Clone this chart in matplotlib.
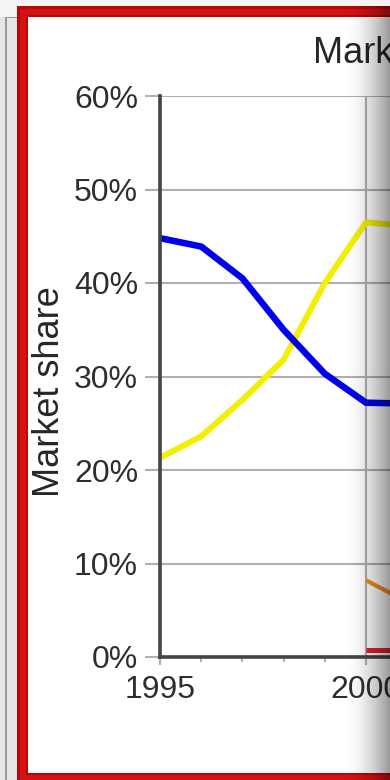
import numpy as np
import matplotlib
matplotlib.use("Agg")
import matplotlib.pyplot as plt
from matplotlib.patches import Rectangle
from matplotlib.ticker import MultipleLocator, FuncFormatter

plt.rcParams['font.family'] = ['Liberation Sans', 'DejaVu Sans']

# Market share by year (percent)
years_main = [1995, 1996, 1997, 1998, 1999, 2000, 2001]
share_blue = [44.8, 43.9, 40.5, 35.0, 30.3, 27.2, 27.1]
share_yellow = [21.3, 23.6, 27.5, 31.8, 40.0, 46.5, 46.1]
years_late = [2000, 2001]
share_orange = [8.2, 5.9]
share_red = [0.8, 0.8]

W, H = 390, 780
fig = plt.figure(figsize=(W / 100, H / 100), dpi=100)
fig.patch.set_facecolor('#f4f4f4')


def fx(px):
    return px / W


def fy(py):
    return 1 - py / H


# page background on the left and the red frame
fig.patches.append(Rectangle((0, 0), fx(17), fy(17), transform=fig.transFigure,
                             facecolor='#e6e6e6', edgecolor='none', zorder=0))
fig.patches.append(Rectangle((fx(5), 0), fx(2), fy(17), transform=fig.transFigure,
                             facecolor='#9a9a9a', edgecolor='none', zorder=0))
fig.patches.append(Rectangle((fx(5), fy(18)), fx(12), 1 / H, transform=fig.transFigure,
                             facecolor='#9a9a9a', edgecolor='none', zorder=0))
fig.patches.append(Rectangle((fx(17), -0.01), 1.0, fy(6) + 0.01, transform=fig.transFigure,
                             facecolor='#bc0505', edgecolor='none', zorder=0))
fig.patches.append(Rectangle((fx(20), -0.01), 1.0, fy(9) + 0.01, transform=fig.transFigure,
                             facecolor='#d41216', edgecolor='none', zorder=0))
fig.patches.append(Rectangle((fx(26), fy(775)), 1.0, fy(15) - fy(775), transform=fig.transFigure,
                             facecolor='#bc0505', edgecolor='none', zorder=0))
fig.patches.append(Rectangle((fx(28), fy(773)), 1.0, fy(17) - fy(773), transform=fig.transFigure,
                             facecolor='white', edgecolor='none', zorder=0))

# plot area: 1995 at x=160, one year = 41.2 px; 0% at y=657, 60% at y=96
x0, x1 = 1995, 2001
left, right = 160, 160 + 41.2 * (x1 - x0)
top, bottom = 96, 657
ax = fig.add_axes([fx(left), fy(bottom), (right - left) / W, (bottom - top) / H], zorder=2)
ax.set_facecolor('none')
ax.set_xlim(x0, x1)
ax.set_ylim(0, 60)

ax.plot(years_main, share_blue, color='#0000ee', lw=4.7, solid_capstyle='butt', zorder=4)
ax.plot(years_main, share_yellow, color='#f2f000', lw=4.3, solid_capstyle='butt', zorder=3)
ax.plot(years_late, share_orange, color='#f0901e', lw=3.0, solid_capstyle='butt', zorder=3)
ax.plot(years_late, share_red, color='#e8202a', lw=3.6, solid_capstyle='butt', zorder=3)

ax.yaxis.set_major_locator(MultipleLocator(10))
ax.yaxis.set_major_formatter(FuncFormatter(lambda v, p: f"{int(round(v))}%"))
ax.xaxis.set_major_locator(MultipleLocator(5))
ax.xaxis.set_minor_locator(MultipleLocator(1))
ax.xaxis.set_major_formatter(FuncFormatter(lambda v, p: f"{int(v)}"))

ax.grid(True, which='major', color='#b0b0b0', lw=1.5)
ax.set_axisbelow(True)
for s in ('top', 'right'):
    ax.spines[s].set_visible(False)
for s in ('left', 'bottom'):
    ax.spines[s].set_color('#444444')
    ax.spines[s].set_linewidth(2.6)
    ax.spines[s].set_zorder(5)

ax.tick_params(axis='y', which='major', length=10.8, width=1.5, color='#b0b0b0',
               labelsize=23, labelcolor='#2e2e2e', pad=5)
ax.tick_params(axis='x', which='major', length=6, width=1.5, color='#b0b0b0',
               labelsize=23, labelcolor='#2e2e2e', pad=7)
ax.tick_params(axis='x', which='minor', length=3.5, width=1.5, color='#b0b0b0')

fig.text(fx(50), fy(392), 'Market share', rotation=90, ha='center', va='center',
         fontsize=26, color='#262626')
fig.text(fx(313), fy(63), 'Market share', ha='left', va='baseline',
         fontsize=26, color='#262626')

# shaded fold along the right edge
shade = fig.add_axes([fx(345), 0, fx(W - 345), fy(6)], zorder=10)
grad = np.linspace(0, 1, 64) ** 1.7
rgba = np.zeros((1, 64, 4))
rgba[..., 3] = 0.40 * grad
shade.imshow(rgba, aspect='auto', extent=[0, 1, 0, 1])
shade.axis('off')

fig.savefig('out.png', dpi=100, facecolor=fig.get_facecolor())
